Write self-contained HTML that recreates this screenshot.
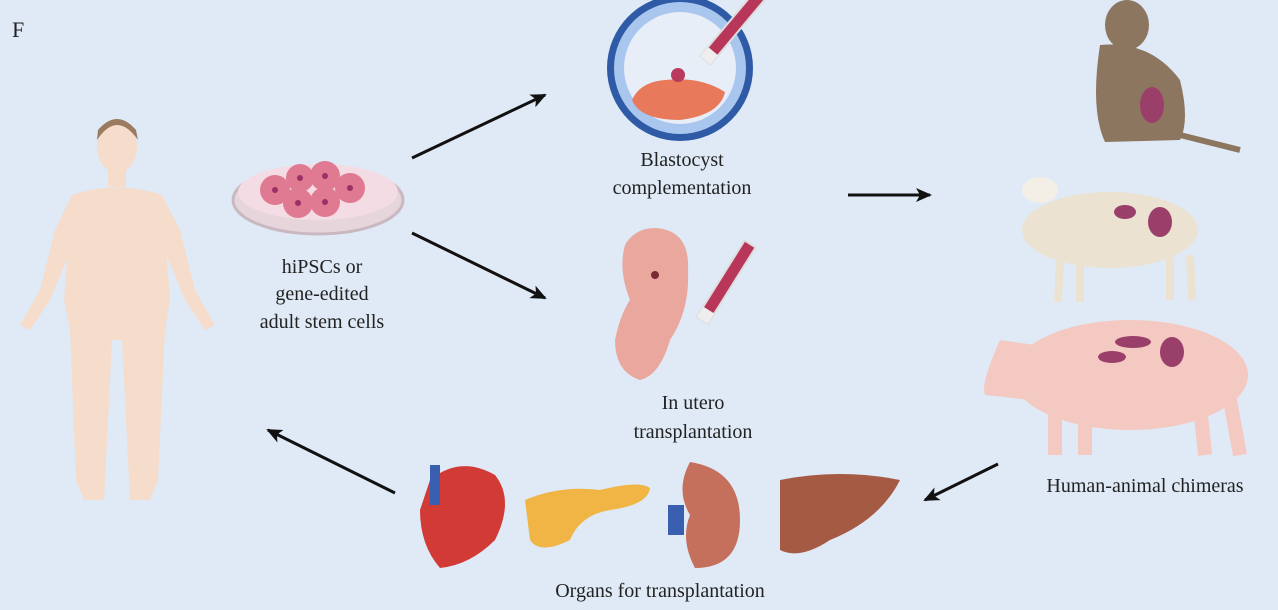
<!DOCTYPE html>
<html><head><style>
html,body{margin:0;padding:0;background:#dfeaf6;}
svg{display:block}
text{font-family:"Liberation Serif",serif;fill:#222;}
</style></head><body>
<svg width="1278" height="610" viewBox="0 0 1278 610" xmlns="http://www.w3.org/2000/svg">
<defs>
<marker id="ah" markerWidth="16" markerHeight="14" refX="14" refY="7" orient="auto" markerUnits="userSpaceOnUse" viewBox="0 0 16 14">
<path d="M0,0 L16,7 L0,14 L4,7 z" fill="#111"/></marker>
</defs>
<rect width="1278" height="610" fill="#dfeaf6"/>
<text x="12" y="37" font-size="22">F</text>

<!-- human -->
<g fill="#f5dccb">
<ellipse cx="117" cy="147" rx="20" ry="26"/>
<rect x="108" y="165" width="18" height="22"/>
<path d="M72,195 Q117,180 162,195 L170,300 L165,330 L158,480 L150,500 L130,500 L122,340 L112,340 L104,500 L84,500 L76,480 L70,330 L64,300 Z"/>
<path d="M72,195 L55,230 L40,290 L20,325 L30,330 L50,300 L75,240 Z"/>
<path d="M162,195 L180,230 L195,290 L215,325 L205,330 L185,300 L160,240 Z"/>
</g>
<path d="M97,140 Q117,110 138,140 L136,130 Q117,108 98,130 Z" fill="#9a7b5f"/>

<!-- petri dish -->
<ellipse cx="318" cy="200" rx="85" ry="34" fill="#e6d6dc" stroke="#c9b8c0" stroke-width="3"/>
<ellipse cx="318" cy="192" rx="80" ry="28" fill="#f3dce3"/>
<g fill="#e07a93"><circle cx="275" cy="190" r="15"/><circle cx="300" cy="178" r="14"/><circle cx="325" cy="176" r="15"/><circle cx="350" cy="188" r="15"/><circle cx="298" cy="203" r="15"/><circle cx="325" cy="202" r="15"/></g>
<g fill="#9b2f66"><circle cx="275" cy="190" r="3"/><circle cx="300" cy="178" r="3"/><circle cx="325" cy="176" r="3"/><circle cx="350" cy="188" r="3"/><circle cx="298" cy="203" r="3"/><circle cx="325" cy="202" r="3"/></g>
<g font-size="20" text-anchor="middle"><text x="322" y="273">hiPSCs or</text><text x="322" y="300">gene-edited</text><text x="322" y="328">adult stem cells</text></g>

<!-- arrows -->
<g stroke="#111" stroke-width="3" fill="none" marker-end="url(#ah)">
<line x1="412" y1="158" x2="545" y2="95"/>
<line x1="412" y1="233" x2="545" y2="298"/>
<line x1="848" y1="195" x2="930" y2="195"/>
<line x1="998" y1="464" x2="925" y2="500"/>
<line x1="395" y1="493" x2="268" y2="430"/>
</g>

<!-- blastocyst -->
<circle cx="680" cy="68" r="73" fill="#2f5aa6"/>
<circle cx="680" cy="68" r="66" fill="#a9c6ee"/>
<circle cx="680" cy="68" r="56" fill="#e8eef8"/>
<path d="M632,100 Q640,82 665,80 Q700,76 725,92 Q720,115 680,120 Q640,120 632,100 Z" fill="#e8795a"/>
<circle cx="678" cy="75" r="7" fill="#b83a5e"/>
<g transform="translate(705,60) rotate(-50)"><rect x="0" y="-6" width="90" height="13" fill="#b8365a" stroke="#ddd" stroke-width="2"/><rect x="0" y="-6" width="12" height="13" fill="#eee"/></g>
<g font-size="20" text-anchor="middle"><text x="682" y="166">Blastocyst</text><text x="682" y="194">complementation</text></g>

<!-- embryo -->
<path d="M655,228 Q690,230 688,270 Q690,310 670,340 Q660,375 640,380 Q615,372 615,340 Q620,315 630,300 Q618,270 625,245 Q635,228 655,228 Z" fill="#eaa79d"/>
<circle cx="655" cy="275" r="4" fill="#7a2a35"/>
<g transform="translate(702,320) rotate(-58)"><rect x="0" y="-6" width="90" height="13" fill="#b8365a" stroke="#ddd" stroke-width="2"/><rect x="0" y="-6" width="12" height="13" fill="#eee"/></g>
<g font-size="20" text-anchor="middle"><text x="693" y="409">In utero</text><text x="693" y="438">transplantation</text></g>

<!-- monkey -->
<ellipse cx="1127" cy="25" rx="22" ry="25" fill="#8d7660"/>
<path d="M1100,45 Q1150,40 1180,80 Q1190,120 1180,140 L1105,142 Q1090,110 1100,45 Z" fill="#8d7660"/>
<path d="M1180,135 Q1220,145 1240,150" stroke="#8d7660" stroke-width="6" fill="none"/>
<ellipse cx="1152" cy="105" rx="12" ry="18" fill="#9a3f6a"/>
<!-- sheep -->
<ellipse cx="1110" cy="230" rx="88" ry="38" fill="#ebe2d2"/>
<ellipse cx="1040" cy="190" rx="18" ry="13" fill="#f3eee6"/>
<g stroke="#ebe2d2" stroke-width="8"><line x1="1060" y1="260" x2="1058" y2="302"/><line x1="1080" y1="262" x2="1080" y2="302"/><line x1="1170" y1="258" x2="1170" y2="300"/><line x1="1190" y1="255" x2="1192" y2="300"/></g>
<ellipse cx="1125" cy="212" rx="11" ry="7" fill="#9a3f6a"/>
<ellipse cx="1160" cy="222" rx="12" ry="15" fill="#9a3f6a"/>
<!-- pig -->
<ellipse cx="1130" cy="375" rx="118" ry="55" fill="#f3c9c1"/>
<path d="M1000,340 Q980,385 985,395 L1030,400 L1035,345 Z" fill="#f3c9c1"/>
<g stroke="#f3c9c1" stroke-width="14"><line x1="1055" y1="410" x2="1055" y2="455"/><line x1="1085" y1="415" x2="1085" y2="455"/><line x1="1200" y1="405" x2="1205" y2="455"/><line x1="1230" y1="400" x2="1240" y2="455"/></g>
<ellipse cx="1133" cy="342" rx="18" ry="6" fill="#9a3f6a"/>
<ellipse cx="1112" cy="357" rx="14" ry="6" fill="#9a3f6a"/>
<ellipse cx="1172" cy="352" rx="12" ry="15" fill="#9a3f6a"/>
<text x="1145" y="492" font-size="20" text-anchor="middle">Human-animal chimeras</text>

<!-- organs -->
<path d="M430,480 Q460,455 495,475 Q515,500 495,540 Q470,565 440,568 Q420,545 420,510 Z" fill="#d23a35"/>
<rect x="430" y="465" width="10" height="40" fill="#3a5fb0"/>
<path d="M525,500 Q560,485 600,490 Q640,480 650,488 Q648,505 610,510 Q580,515 570,540 Q540,555 530,540 Z" fill="#f0b545"/>
<path d="M690,462 Q740,470 740,520 Q740,568 695,568 Q680,540 690,515 Q675,490 690,462 Z" fill="#c5705c"/>
<rect x="668" y="505" width="16" height="30" fill="#3a5fb0"/>
<path d="M780,480 Q840,468 900,480 Q880,520 830,540 Q800,560 780,550 Z" fill="#a55a44"/>
<text x="660" y="597" font-size="20" text-anchor="middle">Organs for transplantation</text>
</svg>
</body></html>
